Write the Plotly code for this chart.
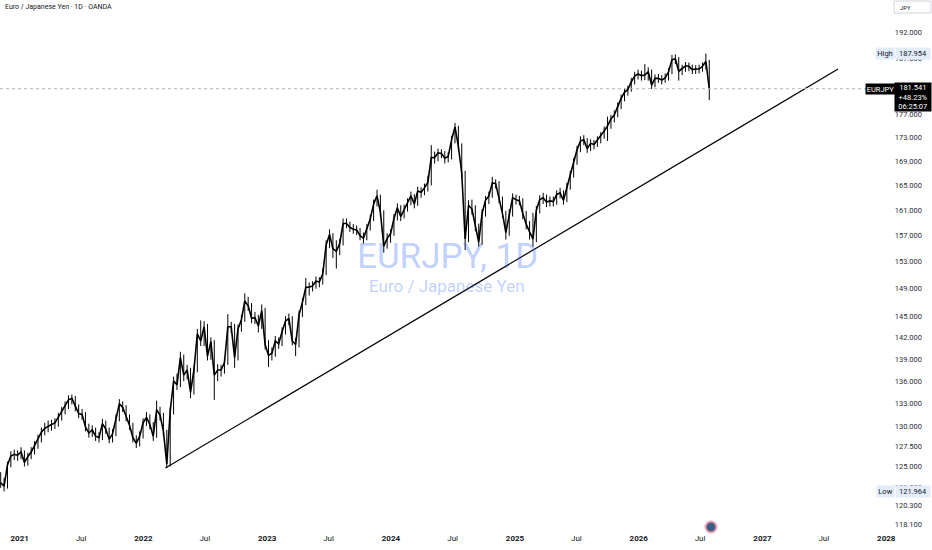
import pandas as pd
import plotly.graph_objects as go

# ---------------- data ----------------
first_open = 123.6
close = [
    123.0, 122.6, 125.2, 126.3, 126.5, 126.4, 126.8, 125.5, 126.2, 126.8,
    127.6, 128.4, 129.3, 129.8, 130.1, 130.3, 130.5, 131.2, 132.0, 132.7,
    133.5, 133.7, 132.6, 131.7, 131.6, 130.0, 129.2, 129.6, 128.8, 128.6,
    130.4, 129.7, 128.4, 129.1, 131.0, 133.0, 132.5, 131.3, 130.2, 128.6,
    127.9, 128.8, 130.5, 131.2, 130.3, 128.8, 132.2, 131.5, 129.4, 125.3,
    132.0, 136.0, 135.5, 139.2, 136.8, 137.5, 134.5, 137.5, 142.5, 141.5,
    143.5, 139.4, 141.4, 136.8, 137.5, 137.5, 138.5, 143.5, 143.5, 139.2,
    143.2, 144.5, 147.2, 146.5, 144.7, 144.8, 143.6, 145.8, 141.0, 139.5,
    139.8, 141.5, 141.1, 142.8, 144.3, 144.7, 141.5, 141.0, 145.2, 147.0,
    149.2, 149.2, 149.4, 150.1, 150.0, 151.2, 155.6, 157.2, 155.0, 154.6,
    155.8, 158.9, 158.9, 158.3, 158.0, 157.9, 157.0, 156.6, 158.1, 159.6,
    162.0, 163.3, 160.7, 155.4, 156.6, 157.3, 159.7, 161.4, 160.0, 161.2,
    162.2, 163.3, 162.0, 164.1, 163.9, 164.6, 165.5, 169.6, 169.6, 170.4,
    170.3, 169.5, 169.8, 172.6, 174.8, 171.5, 167.0, 156.5, 161.8, 161.2,
    158.5, 156.0, 160.5, 162.6, 163.3, 165.4, 165.3, 162.8, 160.5, 157.5,
    160.5, 163.0, 162.7, 162.5, 160.5, 158.8, 157.6, 156.5, 161.0, 162.7,
    163.0, 162.3, 162.5, 162.4, 163.5, 163.8, 162.6, 164.7, 166.7, 168.8,
    170.9, 172.4, 172.6, 171.1, 172.0, 171.8, 172.5, 173.2, 174.1, 175.0,
    176.2, 176.9, 178.4, 179.8, 180.9, 181.4, 182.8, 183.8, 184.2, 183.9,
    184.0, 184.6, 182.2, 183.4, 183.4, 183.1, 183.5, 184.6, 186.8, 187.0,
    184.7, 185.2, 185.7, 185.6, 185.0, 185.1, 185.1, 185.6, 186.5, 181.541,
]
high = [
    124.3, 123.6, 125.6, 126.9, 127.1, 127.0, 127.4, 127.0, 126.7, 127.4,
    128.2, 129.0, 129.9, 130.5, 130.8, 130.9, 131.1, 131.8, 132.6, 133.3,
    134.1, 134.2, 134.0, 132.9, 132.3, 131.9, 130.4, 130.2, 129.9, 129.3,
    131.0, 130.8, 129.9, 129.7, 131.6, 133.6, 133.3, 132.8, 131.6, 130.5,
    128.9, 129.4, 131.1, 131.9, 131.6, 130.6, 133.4, 132.6, 131.8, 129.6,
    132.6, 136.6, 137.0, 140.0, 139.6, 138.2, 137.8, 138.1, 143.2, 144.4,
    144.3, 143.9, 142.0, 141.6, 138.3, 138.2, 139.2, 145.3, 144.2, 143.9,
    143.8, 145.2, 148.3, 147.8, 146.9, 145.6, 145.2, 146.7, 146.2, 141.6,
    140.6, 142.2, 142.0, 143.4, 145.0, 145.4, 145.0, 141.9, 145.8, 147.6,
    150.6, 149.9, 150.1, 150.8, 150.7, 152.0, 156.3, 158.0, 157.4, 156.3,
    156.5, 159.7, 159.7, 159.2, 158.8, 158.6, 158.2, 157.5, 158.8, 160.3,
    162.7, 164.3, 163.5, 161.0, 157.4, 158.0, 160.4, 162.1, 161.8, 161.9,
    162.9, 164.0, 163.6, 164.8, 164.7, 165.3, 166.6, 171.7, 170.6, 171.1,
    171.0, 170.7, 170.5, 173.3, 175.5, 175.0, 172.0, 167.4, 162.6, 162.7,
    161.8, 158.9, 161.2, 163.3, 164.0, 166.4, 166.0, 165.7, 163.2, 160.9,
    161.2, 163.7, 163.5, 163.3, 162.9, 160.9, 159.3, 160.6, 161.7, 163.4,
    163.8, 163.5, 163.2, 163.2, 164.2, 164.6, 164.2, 165.4, 167.4, 169.5,
    171.6, 173.2, 173.4, 172.9, 172.7, 172.6, 173.2, 173.9, 174.9, 176.6,
    176.9, 177.7, 179.1, 180.5, 181.6, 182.1, 183.5, 184.6, 185.0, 184.8,
    186.0, 185.4, 185.0, 184.1, 184.2, 184.0, 184.3, 185.3, 187.7, 187.8,
    187.3, 185.9, 186.4, 186.3, 185.9, 185.8, 185.9, 186.3, 187.954, 186.8,
]
low = [
    122.4, 121.964, 122.3, 124.9, 125.8, 125.7, 125.9, 125.0, 125.1, 125.9,
    126.5, 127.2, 128.0, 128.9, 129.3, 129.5, 129.7, 130.0, 130.8, 131.6,
    132.3, 132.9, 132.0, 131.1, 130.9, 129.4, 128.6, 128.7, 128.2, 128.0,
    128.3, 129.1, 127.9, 128.0, 128.8, 130.7, 131.9, 130.7, 129.6, 128.0,
    127.3, 127.5, 128.5, 130.1, 129.7, 128.2, 128.6, 130.8, 128.8, 124.8,
    125.0, 131.6, 134.8, 135.2, 136.0, 136.2, 133.7, 134.2, 137.2, 140.8,
    140.8, 138.8, 138.9, 133.5, 136.0, 136.6, 137.0, 138.2, 142.6, 137.8,
    138.8, 142.8, 144.2, 145.8, 144.0, 143.9, 142.7, 143.2, 140.3, 137.9,
    138.8, 139.3, 140.4, 140.8, 142.4, 143.7, 140.9, 139.4, 140.6, 144.9,
    146.6, 148.0, 148.6, 149.0, 149.2, 149.6, 151.0, 155.1, 153.6, 152.0,
    154.0, 155.5, 158.2, 157.6, 157.3, 157.1, 156.3, 155.8, 156.3, 157.8,
    159.3, 161.6, 160.0, 154.4, 155.0, 155.9, 157.0, 159.4, 159.3, 159.7,
    160.8, 161.8, 161.3, 161.7, 163.0, 163.4, 164.0, 165.0, 168.6, 169.0,
    169.5, 168.6, 168.8, 169.3, 172.0, 170.8, 166.2, 154.8, 156.0, 160.3,
    157.7, 155.3, 155.6, 160.0, 162.0, 163.0, 164.5, 162.1, 159.8, 156.4,
    157.0, 160.0, 161.9, 161.8, 159.6, 158.0, 156.4, 155.3, 156.0, 160.5,
    162.0, 161.5, 161.6, 161.6, 161.9, 162.9, 161.9, 162.3, 164.3, 166.3,
    168.4, 170.5, 171.7, 170.4, 170.7, 171.0, 171.4, 172.0, 172.8, 172.4,
    174.5, 175.6, 176.5, 177.9, 179.3, 180.3, 181.0, 182.3, 183.2, 183.0,
    183.1, 183.0, 181.5, 181.8, 182.6, 182.3, 182.6, 183.0, 184.2, 186.0,
    183.0, 184.0, 184.6, 184.7, 184.2, 184.2, 184.3, 184.6, 185.0, 179.5,
]
open_ = [first_open] + close[:-1]
dates = pd.date_range("2020-11-06", periods=len(close), freq="10D")

trend_dates = ["2022-03-07", "2027-08-12"]
trend_prices = [124.8, 185.1]

last_price = 181.541
change_pct = "+48.23%"
countdown = "06:25:07"
high_value = 187.954
low_value = 121.964

price_ticks = [118.1, 120.3, 122.5, 125, 127.5, 130, 133, 136, 139, 142, 145,
               149, 153, 157, 161, 165, 169, 173, 177, 187, 192]
time_ticks = ["2021-01-01", "2021-07-01", "2022-01-01", "2022-07-01",
              "2023-01-01", "2023-07-01", "2024-01-01", "2024-07-01",
              "2025-01-01", "2025-07-01", "2026-01-01", "2026-07-01",
              "2027-01-01", "2027-07-01", "2028-01-01"]
time_labels = ["<b>2021</b>", "Jul", "<b>2022</b>", "Jul", "<b>2023</b>", "Jul",
               "<b>2024</b>", "Jul", "<b>2025</b>", "Jul", "<b>2026</b>", "Jul",
               "<b>2027</b>", "Jul", "<b>2028</b>"]

# ---------------- figure ----------------
W, H = 932, 550
PB = 532  # plot area height in px (bottom margin 18)
FONT = "Roboto"
TXT = "#131722"


def px(x):
    return x / W


def py(y):
    return (PB - y) / PB


fig = go.Figure()

# high-low ranges of each bar (vertical strokes)
fig.add_trace(go.Ohlc(
    x=dates, open=open_, high=high, low=low, close=close,
    increasing=dict(line=dict(color="#000000", width=1)),
    decreasing=dict(line=dict(color="#000000", width=1)),
    tickwidth=0.0, hoverinfo="skip", showlegend=False,
))
# close-to-close path
fig.add_trace(go.Scatter(
    x=dates, y=close, mode="lines",
    line=dict(color="#000000", width=1.6), hoverinfo="skip", showlegend=False,
))

fig.add_trace(go.Scatter(
    x=trend_dates, y=trend_prices, mode="lines",
    line=dict(color="#000000", width=1.2), hoverinfo="skip", showlegend=False,
))

fig.add_trace(go.Scatter(
    x=["2020-11-04", "2027-11-05"], y=[last_price, last_price], mode="lines",
    line=dict(color="#b2b5be", width=1, dash="dot"), hoverinfo="skip",
    showlegend=False,
))

fig.update_layout(
    width=W, height=H,
    margin=dict(l=0, r=0, t=0, b=H - PB, autoexpand=False),
    paper_bgcolor="#ffffff", plot_bgcolor="#ffffff",
    font=dict(family=FONT, color=TXT, size=8),
    showlegend=False,
    xaxis=dict(
        type="date", range=["2020-11-04", "2028-05-15"],
        rangeslider=dict(visible=False),
        showgrid=False, zeroline=False, showline=False, ticks="",
        tickmode="array", tickvals=time_ticks, ticktext=time_labels,
        tickfont=dict(size=8, color=TXT, family=FONT), automargin=False,
    ),
    yaxis=dict(
        type="log", range=[2.06880, 2.29703], side="right",
        showgrid=False, zeroline=False, showline=False, ticks="",
        tickmode="array", tickvals=price_ticks,
        ticktext=[f"{v:.3f}" for v in price_ticks],
        ticklabelposition="inside", ticklabelstandoff=7,
        tickfont=dict(size=7.5, color="#2a2e39", family=FONT), automargin=False,
    ),
)

ann = []
# top-left title
ann.append(dict(xref="paper", yref="paper", x=px(3), y=py(7), xanchor="left",
                yanchor="middle", text="Euro / Japanese Yen · 1D · OANDA",
                showarrow=False, font=dict(size=7, color=TXT, family=FONT)))
# watermark
ann.append(dict(xref="paper", yref="paper", x=px(447), y=py(256), xanchor="center",
                yanchor="middle", text="EURJPY, 1D", showarrow=False,
                font=dict(size=35, color="rgba(41,98,255,0.3)", family=FONT)))
ann.append(dict(xref="paper", yref="paper", x=px(447), y=py(286), xanchor="center",
                yanchor="middle", text="Euro / Japanese Yen", showarrow=False,
                font=dict(size=17, color="rgba(41,98,255,0.3)", family=FONT)))
# JPY box
ann.append(dict(xref="paper", yref="paper", x=px(898), y=py(7), xanchor="left",
                yanchor="middle", text="JPY", showarrow=False,
                font=dict(size=6, color=TXT, family=FONT)))
# High tag
ann.append(dict(xref="paper", yref="paper", x=px(884.5), y=py(53.5), xanchor="center",
                yanchor="middle", text="High", showarrow=False, bgcolor="#e3ecfb",
                width=18, height=11, borderpad=0,
                font=dict(size=7.5, color=TXT, family=FONT)))
ann.append(dict(xref="paper", yref="paper", x=px(912.5), y=py(53.5), xanchor="center",
                yanchor="middle", text=f"{high_value:.3f}", showarrow=False,
                bgcolor="#e3ecfb", width=34, height=11, borderpad=0,
                font=dict(size=7.5, color=TXT, family=FONT)))
# Low tag
ann.append(dict(xref="paper", yref="paper", x=px(885), y=py(491.5), xanchor="center",
                yanchor="middle", text="Low", showarrow=False, bgcolor="#e3ecfb",
                width=17, height=11, borderpad=0,
                font=dict(size=7.5, color=TXT, family=FONT)))
ann.append(dict(xref="paper", yref="paper", x=px(912.5), y=py(491.5), xanchor="center",
                yanchor="middle", text=f"{low_value:.3f}", showarrow=False,
                bgcolor="#e3ecfb", width=34, height=11, borderpad=0,
                font=dict(size=7.5, color=TXT, family=FONT)))
# last price tags
ann.append(dict(xref="paper", yref="paper", x=px(880.5), y=py(89), xanchor="center",
                yanchor="middle", text="EURJPY", showarrow=False, bgcolor="#000000",
                width=29, height=10, borderpad=0,
                font=dict(size=7.5, color="#ffffff", family=FONT)))
ann.append(dict(xref="paper", yref="paper", x=px(912.5), y=py(97), xanchor="center",
                yanchor="middle",
                text=f"{last_price:.3f}<br>{change_pct}<br>{countdown}",
                showarrow=False, bgcolor="#000000", width=36, height=28, borderpad=0,
                align="center",
                font=dict(size=7.5, color="#ffffff", family=FONT)))
fig.update_layout(annotations=ann)

shapes = [
    dict(type="rect", xref="paper", yref="paper", x0=px(894), x1=px(931),
         y0=py(13), y1=py(1), line=dict(color="#d1d4dc", width=1),
         fillcolor="#ffffff", layer="below"),
    dict(type="circle", xref="paper", yref="paper", x0=px(705.5), x1=px(716.5),
         y0=py(532.5), y1=py(521.5), line=dict(color="#f2a2b3", width=2),
         fillcolor="#3f5e86"),
]
fig.update_layout(shapes=shapes)

fig.write_html("out.html", config={"displayModeBar": False},
               post_script="document.body.style.margin='0px';"
                           "document.body.style.padding='0px';")
